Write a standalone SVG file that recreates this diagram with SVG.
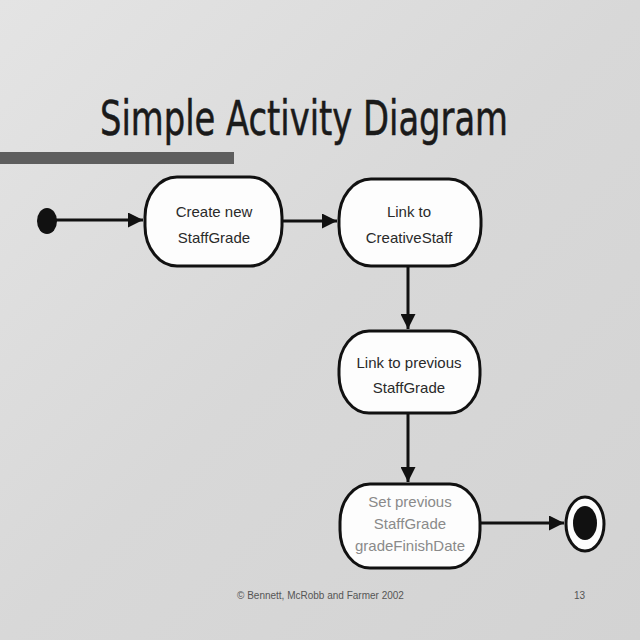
<svg xmlns="http://www.w3.org/2000/svg" width="640" height="640" viewBox="0 0 640 640">
  <defs>
    <linearGradient id="bg" x1="0" y1="0" x2="1" y2="1">
      <stop offset="0" stop-color="#e4e4e4"/>
      <stop offset="0.5" stop-color="#d8d8d8"/>
      <stop offset="1" stop-color="#d3d3d3"/>
    </linearGradient>
    <marker id="arrow" viewBox="0 0 10 10" refX="10" refY="5" markerWidth="5" markerHeight="5" orient="auto" markerUnits="strokeWidth">
      <path d="M0,0 L10,5 L0,10 z" fill="#111"/>
    </marker>
    <style>
      .node rect { fill: #fdfdfd; stroke: #111; stroke-width: 3; }
      .label { font-family: "Liberation Sans", Arial, sans-serif; font-size: 15px; fill: #2a2a2a; text-anchor: middle; }
      .faded { fill: #8a8a8a; }
      .conn line { stroke: #111; stroke-width: 3; marker-end: url(#arrow); }
    </style>
  </defs>
  <rect width="640" height="640" fill="url(#bg)"/>

  <g id="title">
    <text x="100" y="135" font-family="'DejaVu Sans Condensed', 'Liberation Sans', sans-serif" font-stretch="condensed" font-size="48" fill="#1a1a1a" stroke="#1a1a1a" stroke-width="0.5" textLength="408" lengthAdjust="spacingAndGlyphs">Simple Activity Diagram</text>
    <rect x="0" y="152" width="234" height="12" fill="#5e5e5e"/>
  </g>

  <g id="connectors" class="conn">
    <line x1="56" y1="220" x2="143" y2="220"/>
    <line x1="283" y1="221" x2="337" y2="221"/>
    <line x1="408" y1="267" x2="408" y2="329"/>
    <line x1="408" y1="413" x2="408" y2="482"/>
    <line x1="481" y1="523" x2="564" y2="523"/>
  </g>

  <g id="start">
    <ellipse cx="47" cy="221" rx="10" ry="13" fill="#111"/>
  </g>

  <g id="node1" class="node">
    <rect x="145" y="177" width="137" height="89" rx="32" ry="40"/>
    <text class="label" x="214" y="217">Create new</text>
    <text class="label" x="214" y="243">StaffGrade</text>
  </g>

  <g id="node2" class="node">
    <rect x="339" y="179" width="142" height="87" rx="32" ry="40"/>
    <text class="label" x="409" y="217">Link to</text>
    <text class="label" x="409" y="243">CreativeStaff</text>
  </g>

  <g id="node3" class="node">
    <rect x="339" y="331" width="141" height="82" rx="30" ry="38"/>
    <text class="label" x="409" y="368">Link to previous</text>
    <text class="label" x="409" y="393">StaffGrade</text>
  </g>

  <g id="node4" class="node">
    <rect x="340" y="484" width="140" height="84" rx="30" ry="38"/>
    <text class="label faded" x="410" y="507">Set previous</text>
    <text class="label faded" x="410" y="529">StaffGrade</text>
    <text class="label faded" x="410" y="551">gradeFinishDate</text>
  </g>

  <g id="end">
    <ellipse cx="585" cy="524" rx="19" ry="27" fill="#fdfdfd" stroke="#111" stroke-width="3"/>
    <ellipse cx="585" cy="523" rx="12" ry="17" fill="#111"/>
  </g>

  <g id="footer" font-family="'Liberation Sans', Arial, sans-serif" font-size="10" fill="#555">
    <text x="237" y="599">© Bennett, McRobb and Farmer 2002</text>
    <text x="574" y="599">13</text>
  </g>
</svg>
